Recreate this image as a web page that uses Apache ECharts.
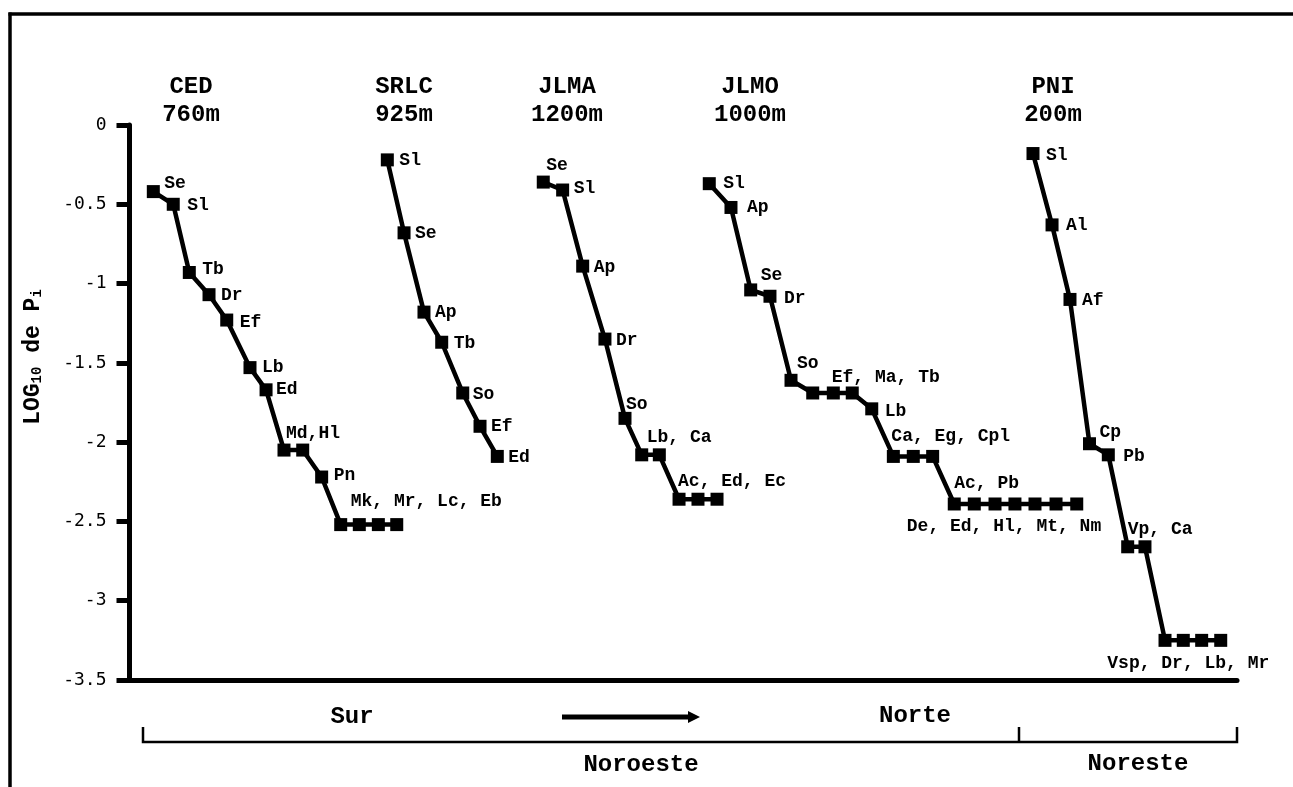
<!DOCTYPE html>
<html><head><meta charset="utf-8">
<script src="https://cdn.jsdelivr.net/npm/echarts@6/dist/echarts.min.js"></script>
<style>html,body{margin:0;padding:0;background:#fff}#c{width:1293px;height:787px}</style>
</head><body><div id="c"></div>
<script>
// ---------- data ----------
const yTicks = [0, -0.5, -1, -1.5, -2, -2.5, -3, -3.5];
const siteNames = ['CED', 'SRLC', 'JLMA', 'JLMO', 'PNI'];
const siteAltitudes = ['760m', '925m', '1200m', '1000m', '200m'];
const yAxisTitle = 'LOG{s|10} de P{s|i}';
const directionLabels = ['Sur', 'Norte'];
const zoneLabels = ['Noroeste', 'Noreste'];

// x = position along the horizontal axis (0-100), y = LOG10 de Pi
const cedX = [2.15, 3.95, 5.40, 7.18, 8.78, 10.88, 12.33, 13.95, 15.64, 17.35, 19.07, 20.75, 22.47, 24.13];
const cedY = [-0.42, -0.50, -0.93, -1.07, -1.23, -1.53, -1.67, -2.05, -2.05, -2.22, -2.52, -2.52, -2.52, -2.52];
const cedLabels = ['Se', 'Sl', 'Tb', 'Dr', 'Ef', 'Lb', 'Ed', 'Md,Hl', '', 'Pn', 'Mk, Mr, Lc, Eb', '', '', ''];

const srlcX = [23.28, 24.79, 26.59, 28.19, 30.09, 31.65, 33.21];
const srlcY = [-0.22, -0.68, -1.18, -1.37, -1.69, -1.90, -2.09];
const srlcLabels = ['Sl', 'Se', 'Ap', 'Tb', 'So', 'Ef', 'Ed'];

const jlmaX = [37.36, 39.11, 40.92, 42.93, 44.74, 46.25, 47.84, 49.62, 51.33, 53.05];
const jlmaY = [-0.36, -0.41, -0.89, -1.35, -1.85, -2.08, -2.08, -2.36, -2.36, -2.36];
const jlmaLabels = ['Se', 'Sl', 'Ap', 'Dr', 'So', 'Lb, Ca', '', 'Ac, Ed, Ec', '', ''];

const jlmoX = [52.35, 54.31, 56.09, 57.83, 59.73, 61.69, 63.55, 65.26, 67.02, 68.97, 70.77, 72.52, 74.47, 76.28, 78.15, 79.95, 81.76, 83.66, 85.53];
const jlmoY = [-0.37, -0.52, -1.04, -1.08, -1.61, -1.69, -1.69, -1.69, -1.79, -2.09, -2.09, -2.09, -2.39, -2.39, -2.39, -2.39, -2.39, -2.39, -2.39];
const jlmoLabels = ['Sl', 'Ap', 'Se', 'Dr', 'So', 'Ef, Ma, Tb', '', '', 'Lb', 'Ca, Eg, Cpl', '', '', 'Ac, Pb', '', 'De, Ed, Hl, Mt, Nm', '', '', '', ''];

const pniX = [81.58, 83.30, 84.92, 86.68, 88.38, 90.13, 91.69, 93.50, 95.15, 96.81, 98.53];
const pniY = [-0.18, -0.63, -1.10, -2.01, -2.08, -2.66, -2.66, -3.25, -3.25, -3.25, -3.25];
const pniLabels = ['Sl', 'Al', 'Af', 'Cp', 'Pb', 'Vp, Ca', '', '', 'Vsp, Dr, Lb, Mr', '', ''];

// ---------- label placement (style only) ----------
const cedPlace = [[11,-8],[14,1],[13,-3],[12,1],[13,2],[12,0],[10,0],[2,-17],null,[12,-2],[10,-23],null,null,null];
const srlcPlace = [[12,1],[11,1],[11,0],[12,1],[10,1],[11,0],[11,1]];
const jlmaPlace = [[3,-17],[11,-2],[11,1],[11,1],[1,-14],[5,-17],null,[-1,-18],null,null];
const jlmoPlace = [[14,0],[16,0],[10,-14],[14,2],[6,-17],[19,-16],null,null,[13,3],[-2,-20],null,null,[0,-21],null,[9,22,'C'],null,null,null,null];
const pniPlace = [[13,2],[14,1],[12,1],[10,-11],[15,2],[0,-17],null,null,[5,23,'C'],null,null];

const FONT = '"Liberation Mono", "DejaVu Sans Mono", monospace';
const SYM = 13;

function makeLabel(text, place) {
  if (!text || !place) return { show: false };
  const dx = place[0], dy = place[1], mode = place[2] || 'L';
  return {
    show: true, formatter: text, position: 'right', distance: 0,
    offset: [dx - SYM / 2, dy], align: mode === 'C' ? 'center' : 'left',
    verticalAlign: 'middle', fontFamily: FONT, fontWeight: 'bold',
    fontSize: 18, color: '#000'
  };
}

const groups = [
  { x: cedX, y: cedY, labels: cedLabels, place: cedPlace },
  { x: srlcX, y: srlcY, labels: srlcLabels, place: srlcPlace },
  { x: jlmaX, y: jlmaY, labels: jlmaLabels, place: jlmaPlace },
  { x: jlmoX, y: jlmoY, labels: jlmoLabels, place: jlmoPlace },
  { x: pniX, y: pniY, labels: pniLabels, place: pniPlace }
];

const series = groups.map((g, gi) => ({
  type: 'line',
  name: siteNames[gi],
  data: g.x.map((x, i) => ({ value: [x, g.y[i]], label: makeLabel(g.labels[i], g.place[i]) })),
  symbol: 'rect', symbolSize: SYM, showSymbol: true, showAllSymbol: true,
  lineStyle: { color: '#000', width: 4.5 },
  itemStyle: { color: '#000' },
  emphasis: { disabled: true },
  animation: false
}));

const headX = [191, 404, 567, 750, 1053];
const graphics = [
  { type: 'line', shape: { x1: 10, y1: 12.5, x2: 10, y2: 787 }, style: { stroke: '#000', lineWidth: 3.5 } },
  { type: 'line', shape: { x1: 8.5, y1: 14, x2: 1293, y2: 14 }, style: { stroke: '#000', lineWidth: 3.5 } },
  {
    type: 'text', x: 33, y: 357, rotation: Math.PI / 2,
    style: {
      text: yAxisTitle, align: 'center', verticalAlign: 'middle',
      font: 'bold 23px ' + FONT, fill: '#000',
      rich: { s: { fontSize: 14, fontWeight: 'bold', fontFamily: FONT, verticalAlign: 'bottom', padding: [8, 0, 0, 0] } }
    }
  },
  { type: 'text', x: 352, y: 717, style: { text: directionLabels[0], align: 'center', verticalAlign: 'middle', font: 'bold 24px ' + FONT, fill: '#000' } },
  { type: 'text', x: 915, y: 716, style: { text: directionLabels[1], align: 'center', verticalAlign: 'middle', font: 'bold 24px ' + FONT, fill: '#000' } },
  { type: 'line', shape: { x1: 562, y1: 717, x2: 690, y2: 717 }, style: { stroke: '#000', lineWidth: 5 } },
  { type: 'polygon', shape: { points: [[688, 711], [700, 717], [688, 723]] }, style: { fill: '#000' } },
  { type: 'polyline', shape: { points: [[143, 727], [143, 742], [1237, 742], [1237, 727]] }, style: { stroke: '#000', lineWidth: 2.5, fill: null } },
  { type: 'line', shape: { x1: 1019, y1: 727, x2: 1019, y2: 742 }, style: { stroke: '#000', lineWidth: 2.5 } },
  { type: 'text', x: 641, y: 765, style: { text: zoneLabels[0], align: 'center', verticalAlign: 'middle', font: 'bold 24px ' + FONT, fill: '#000' } },
  { type: 'text', x: 1138, y: 764, style: { text: zoneLabels[1], align: 'center', verticalAlign: 'middle', font: 'bold 24px ' + FONT, fill: '#000' } }
];
siteNames.forEach((n, i) => {
  graphics.push({
    type: 'text', x: headX[i], y: 101,
    style: { text: n + '\n' + siteAltitudes[i], align: 'center', verticalAlign: 'middle', font: 'bold 24px ' + FONT, lineHeight: 28, fill: '#000' }
  });
});

const chart = echarts.init(document.getElementById('c'), null, { renderer: 'canvas' });
chart.setOption({
  backgroundColor: '#fff',
  animation: false,
  grid: { left: 129.5, right: 56, top: 125, bottom: 107, containLabel: false },
  xAxis: {
    type: 'value', min: 0, max: 100,
    axisLine: { show: true, onZero: false, lineStyle: { color: '#000', width: 5 } },
    axisTick: { show: false }, axisLabel: { show: false }, splitLine: { show: false }
  },
  yAxis: {
    type: 'value', min: -3.5, max: 0, interval: 0.5,
    axisLine: { show: true, lineStyle: { color: '#000', width: 5 } },
    axisTick: { show: true, length: 13, customValues: yTicks, lineStyle: { color: '#000', width: 5 } },
    axisLabel: {
      margin: 23, customValues: yTicks, fontFamily: '"DejaVu Sans Mono", monospace',
      fontSize: 18, color: '#000', formatter: v => String(v)
    },
    splitLine: { show: false }
  },
  series: series,
  graphic: graphics
});
</script>
</body></html>
